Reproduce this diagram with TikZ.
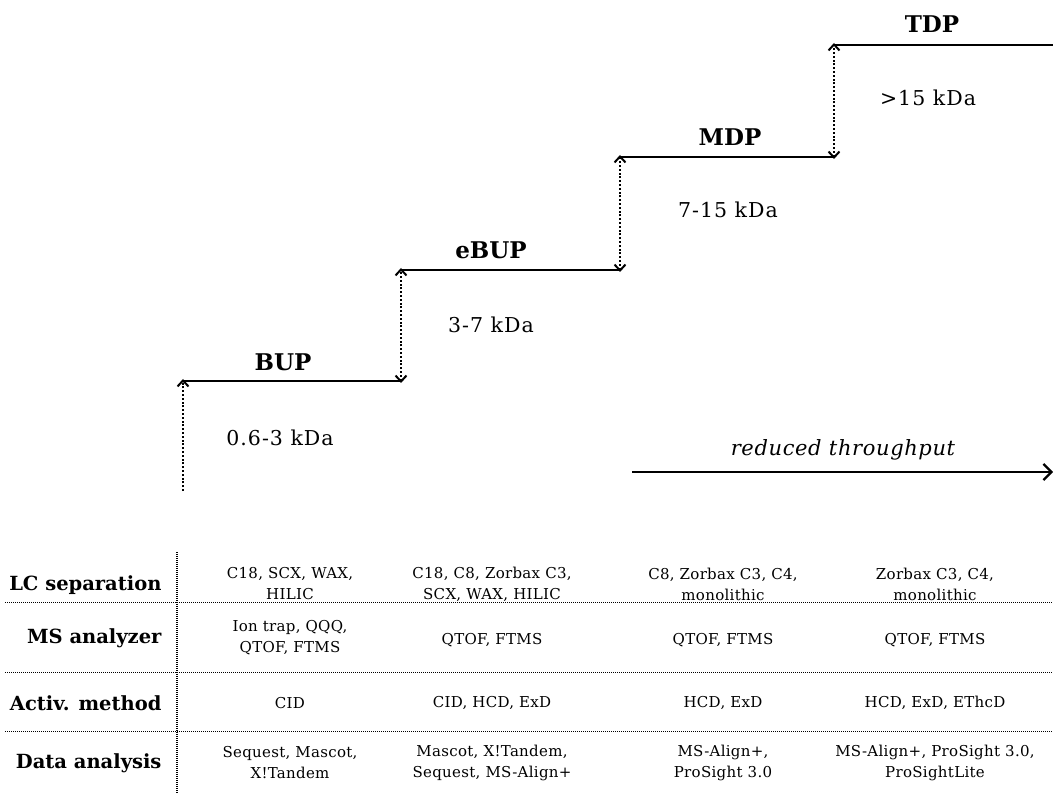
\documentclass[tikz,border=0pt]{standalone}
\usepackage{fontspec}
\setmainfont{DejaVu Serif}
\usetikzlibrary{arrows.meta}
\begin{document}
\begin{tikzpicture}[x=1pt,y=-1pt,
  stepline/.style={line width=2.6pt},
  dotarrow/.style={line width=2.4pt,dash pattern=on 2pt off 1.8pt,{Straight Barb[length=6pt,width=11pt,line width=2pt]}-{Straight Barb[length=6pt,width=11pt,line width=2pt]}},
  dotup/.style={line width=2.4pt,dash pattern=on 2pt off 1.8pt,-{Straight Barb[length=6pt,width=11pt,line width=2pt]}},
  steplabel/.style={font=\fontsize{23}{26}\selectfont\bfseries},
  rangelabel/.style={font=\fontsize{20.5}{24}\selectfont\addfontfeature{LetterSpace=5}},
  rowhead/.style={font=\fontsize{19.5}{22}\selectfont\bfseries,anchor=east},
  cell/.style={font=\fontsize{15}{21}\selectfont\addfontfeature{LetterSpace=2},align=center},
  sepline/.style={line width=1pt,dash pattern=on 1pt off 1pt}]
\useasboundingbox (0,0) rectangle (1053,802);
% step coordinates
\coordinate (b0) at (183,491);
\coordinate (b1) at (183,381);
\coordinate (b2) at (401,381);
\coordinate (e1) at (401,270);
\coordinate (e2) at (620,270);
\coordinate (m1) at (620,157);
\coordinate (m2) at (834,157);
\coordinate (t1) at (834,45);
\coordinate (t2) at (1053,45);
\draw[stepline] (b1) -- (b2);
\draw[stepline] (e1) -- (e2);
\draw[stepline] (m1) -- (m2);
\draw[stepline] (t1) -- (t2);
\draw[dotup] (b0) -- ([yshift=2pt]b1);
\draw[dotarrow] ([yshift=-2pt]b2) -- ([yshift=2pt]e1);
\draw[dotarrow] ([yshift=-2pt]e2) -- ([yshift=2pt]m1);
\draw[dotarrow] ([yshift=-2pt]m2) -- ([yshift=2pt]t1);
% step labels
\node[steplabel] (bup) at (283,362) {BUP};
\node[steplabel] (ebup) at (491,250) {eBUP};
\node[steplabel] (mdp) at (730,137) {MDP};
\node[steplabel] (tdp) at (932,24) {TDP};
\node[rangelabel] (r1) at (280,438) {0.6-3 kDa};
\node[rangelabel] (r2) at (491,325) {3-7 kDa};
\node[rangelabel] (r3) at (728,210) {7-15 kDa};
\node[rangelabel] (r4) at (928,98) {>15 kDa};
% throughput
\coordinate (th0) at (632,472);
\coordinate (th1) at (1053,472);
\draw[line width=2.6pt,-{Straight Barb[length=8pt,width=16pt,line width=2.2pt]}] (th0) -- (th1);
\node[font=\fontsize{21}{24}\selectfont\itshape\addfontfeature{LetterSpace=3}] (thr) at (843,450) {reduced throughput};
% table lines
\coordinate (v0) at (177,552);
\coordinate (v1) at (177,794);
\draw[sepline,line width=1.6pt] (v0) -- (v1);
\coordinate (h1a) at (5,602); \coordinate (h1b) at (1053,602);
\coordinate (h2a) at (5,672); \coordinate (h2b) at (1053,672);
\coordinate (h3a) at (5,731); \coordinate (h3b) at (1053,731);
\draw[sepline] (h1a) -- (h1b);
\draw[sepline] (h2a) -- (h2b);
\draw[sepline] (h3a) -- (h3b);
% row heads
\node[rowhead] (lc) at (165,585) {LC separation};
\node[rowhead] (ms) at (165,638) {MS analyzer};
\node[rowhead] (ac) at (165,703) {Activ. method};
\node[rowhead] (da) at (165,763) {Data analysis};
% cells
\node[cell] (c11) at (290,584) {C18, SCX, WAX,\\HILIC};
\node[cell] (c12) at (492,584) {C18, C8, Zorbax C3,\\SCX, WAX, HILIC};
\node[cell] (c13) at (723,584) {C8, Zorbax C3, C4,\\monolithic};
\node[cell] (c14) at (935,584) {Zorbax C3, C4,\\monolithic};
\node[cell] (c21) at (290,638) {Ion trap, QQQ,\\QTOF, FTMS};
\node[cell] (c22) at (492,640) {QTOF, FTMS};
\node[cell] (c23) at (723,640) {QTOF, FTMS};
\node[cell] (c24) at (935,640) {QTOF, FTMS};
\node[cell] (c31) at (290,703) {CID};
\node[cell] (c32) at (492,703) {CID, HCD, ExD};
\node[cell] (c33) at (723,703) {HCD, ExD};
\node[cell] (c34) at (935,703) {HCD, ExD, EThcD};
\node[cell] (c41) at (290,763) {Sequest, Mascot,\\X!Tandem};
\node[cell] (c42) at (492,763) {Mascot, X!Tandem,\\Sequest, MS-Align+};
\node[cell] (c43) at (723,763) {MS-Align+,\\ProSight 3.0};
\node[cell] (c44) at (935,763) {MS-Align+, ProSight 3.0,\\ProSightLite};
\end{tikzpicture}
\end{document}
